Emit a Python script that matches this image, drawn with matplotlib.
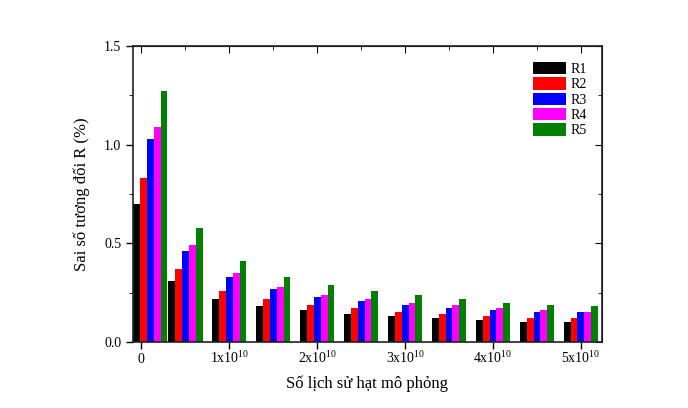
import matplotlib
matplotlib.use("Agg")
import matplotlib.pyplot as plt
import numpy as np
from matplotlib.ticker import MultipleLocator, FormatStrFormatter

plt.rcParams['font.family'] = ['Liberation Serif', 'DejaVu Serif']
plt.rcParams['mathtext.fontset'] = 'custom'
plt.rcParams['mathtext.rm'] = 'Liberation Serif'
plt.rcParams['mathtext.it'] = 'Liberation Serif:italic'

# so lich su (first run is 1e9 histories)
histories = np.array([0.1, 0.5, 1.0, 1.5, 2.0, 2.5, 3.0, 3.5, 4.0, 4.5, 5.0]) * 1e10

r1 = [0.70, 0.31, 0.22, 0.18, 0.16, 0.14, 0.13, 0.12, 0.11, 0.10, 0.10]
r2 = [0.83, 0.37, 0.26, 0.22, 0.19, 0.17, 0.15, 0.14, 0.13, 0.12, 0.12]
r3 = [1.03, 0.46, 0.33, 0.27, 0.23, 0.21, 0.19, 0.17, 0.16, 0.15, 0.15]
r4 = [1.09, 0.49, 0.35, 0.28, 0.24, 0.22, 0.20, 0.19, 0.17, 0.16, 0.15]
r5 = [1.27, 0.58, 0.41, 0.33, 0.29, 0.26, 0.24, 0.22, 0.20, 0.19, 0.18]

series = [r1, r2, r3, r4, r5]
names = ['R1', 'R2', 'R3', 'R4', 'R5']
colors = ['#000000', '#ff0000', '#0000ff', '#ff00ff', '#008000']

tick_vals = [0, 1e10, 2e10, 3e10, 4e10, 5e10]
tick_labels = ['0', r'1x10$^{\mathregular{10}}$', r'2x10$^{\mathregular{10}}$',
               r'3x10$^{\mathregular{10}}$', r'4x10$^{\mathregular{10}}$',
               r'5x10$^{\mathregular{10}}$']

fig = plt.figure(figsize=(6.88, 4.08), dpi=100)
ax = fig.add_axes([0.1933, 0.1618, 0.6817, 0.7252])

w = 0.078e10
for i in range(5):
    ax.bar(histories + (i - 2) * w, series[i], width=w, color=colors[i],
           label=names[i], linewidth=0)

ax.set_xlim(-0.096e10, 5.24e10)
ax.set_ylim(0, 1.5)
ax.set_xticks(tick_vals)
ax.set_xticklabels(tick_labels)
ax.xaxis.set_minor_locator(MultipleLocator(0.5e10))
ax.yaxis.set_major_locator(MultipleLocator(0.5))
ax.yaxis.set_minor_locator(MultipleLocator(0.25))
ax.yaxis.set_major_formatter(FormatStrFormatter('%.1f'))

ax.tick_params(axis='both', which='major', labelsize=10, length=5, width=1)
ax.tick_params(axis='x', which='major', direction='out', top=False, pad=10)
ax.tick_params(axis='x', which='minor', direction='in', length=3, top=False)
ax.tick_params(axis='y', which='major', direction='out', right=False)
ax.tick_params(axis='y', which='minor', direction='out', length=3, right=False)
for lab in ax.get_xticklabels():
    lab.set_verticalalignment('baseline')

# mirrored ticks on top/right pointing inward
axt = ax.secondary_xaxis('top')
axt.set_xticks(tick_vals)
axt.xaxis.set_minor_locator(MultipleLocator(0.5e10))
axt.tick_params(which='major', direction='in', length=5, labeltop=False)
axt.tick_params(which='minor', direction='in', length=3)
axr = ax.secondary_yaxis('right')
axr.yaxis.set_major_locator(MultipleLocator(0.5))
axr.yaxis.set_minor_locator(MultipleLocator(0.25))
axr.tick_params(which='major', direction='in', length=5, labelright=False)
axr.tick_params(which='minor', direction='in', length=3)

for s in ax.spines.values():
    s.set_linewidth(1.2)
    s.set_color('#222222')

ax.set_xlabel('Số lịch sử hạt mô phỏng', fontsize=12, labelpad=7)
ax.set_ylabel('Sai số tương đối R (%)', fontsize=12, labelpad=10)

ax.legend(loc='upper right', bbox_to_anchor=(0.985, 0.975), frameon=False,
          fontsize=10, handlelength=2.4, handleheight=1.0, labelspacing=0.1,
          handletextpad=0.3, borderaxespad=0.2)

fig.savefig('out.png', dpi=100)
